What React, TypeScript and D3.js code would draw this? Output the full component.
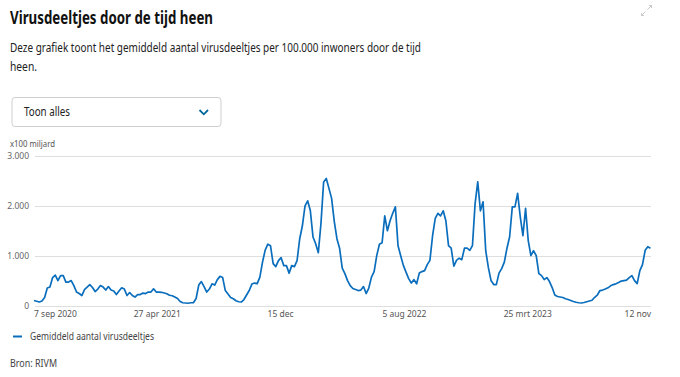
import React from "react";
import * as d3 from "d3";

// ---- Data ----
const seriesStart = "2020-09-07";
const stepDays = 5;
const seriesValues = [
  100, 85, 70, 90, 160, 350, 370, 560, 610, 500, 600, 600, 470, 470, 500, 400, 270, 240, 200, 320,
  370, 420, 360, 280, 330, 400, 370, 310, 380, 310, 290, 220, 290, 355, 330, 200, 260, 200, 170, 220,
  220, 250, 240, 270, 270, 335, 270, 270, 265, 250, 235, 205, 195, 170, 140, 80, 55, 50, 45,
  55, 55, 140, 410, 480, 380, 270, 330, 435, 410, 520, 585, 560, 300, 230, 160, 135, 95, 75, 70,
  120, 210, 300, 430, 450, 440, 570, 870, 1110, 1230, 1200, 840, 780, 900, 960, 800, 800, 650, 800,
  780, 900, 1340, 1600, 2000, 2100, 1900, 1375, 1240, 1060, 1650, 2480, 2550, 2350, 2150, 1690, 1340, 1150,
  750, 640, 500, 400, 340, 320, 300, 310, 380, 240, 350, 570, 680, 1005, 1230, 1260, 1800, 1500, 1700,
  1850, 1980, 1200, 1000, 805, 670, 540, 450, 520, 435, 650, 680, 700, 820, 905, 1400, 1750, 1850, 1800,
  1900, 1700, 1200, 1150, 790, 905, 950, 920, 1150, 1150, 1107, 1200, 2045, 2480, 1900, 2080, 1100, 760,
  500, 420,
  420, 650, 740, 870, 1150, 1380, 1980, 1980, 2250, 1780, 1400, 1950, 1300, 1000, 1100, 1000, 640, 600,
  520, 560, 480, 360, 210, 180, 170, 160, 135, 120, 100, 80, 65, 55, 50, 60, 75, 90, 105, 165, 210, 300,
  310, 330, 355, 395, 420, 435, 460, 490, 500, 510, 560, 600, 500, 440, 700, 820, 1107, 1180, 1150,
];
const yTicks = [0, 1000, 2000, 3000];
const xTickDates = ["2020-09-07", "2021-04-27", "2021-12-15", "2022-08-05", "2023-03-25", "2023-11-12"];
const xTickLabels = ["7 sep 2020", "27 apr 2021", "15 dec", "5 aug 2022", "25 mrt 2023", "12 nov"];
const seriesName = "Gemiddeld aantal virusdeeltjes";

const W = 680;
const H = 377;
const FONT = "'Noto Sans', 'Open Sans', sans-serif";
const BLUE = "#0a6ebd";

export default function App() {
  const parse = d3.timeParse("%Y-%m-%d");
  const start = parse(seriesStart) as Date;
  const data = seriesValues.map((v, i) => ({ date: d3.timeDay.offset(start, i * stepDays), value: v }));
  const tickDates = xTickDates.map((d) => parse(d) as Date);

  const x = d3.scaleTime().domain([tickDates[0], tickDates[tickDates.length - 1]]).range([34, 651]);
  const y = d3.scaleLinear().domain([0, 3000]).range([305.5, 156]);
  const fmt = d3.formatLocale({ decimal: ",", thousands: ".", grouping: [3], currency: ["€", ""] }).format(",d");

  const line = d3
    .line<{ date: Date; value: number }>()
    .x((d) => x(d.date))
    .y((d) => y(d.value))
    .curve(d3.curveLinear);

  return (
    <svg
      width={W}
      height={H}
      style={{ position: "absolute", left: 0, top: 0, background: "#fff" }}
      fontFamily={FONT}
    >
      {/* title */}
      <text x={10} y={24} fontSize={17} fontWeight={700} fill="#111" textLength={203} lengthAdjust="spacingAndGlyphs">
        Virusdeeltjes door de tijd heen
      </text>
      {/* expand icon */}
      <g stroke="#c9c9c9" strokeWidth={1} fill="none">
        <path d="M647.5 9.5 L651.5 5.5 M649 5.5 L651.5 5.5 L651.5 8" />
        <path d="M645.5 11.5 L641.5 15.5 M641.5 13 L641.5 15.5 L644 15.5" />
      </g>
      {/* subtitle */}
      <text x={10} y={52} fontSize={12.5} fill="#222" textLength={411} lengthAdjust="spacingAndGlyphs">
        Deze grafiek toont het gemiddeld aantal virusdeeltjes per 100.000 inwoners door de tijd
      </text>
      <text x={10} y={71} fontSize={12.5} fill="#222" textLength={27} lengthAdjust="spacingAndGlyphs">
        heen.
      </text>
      {/* dropdown */}
      <rect x={12} y={97.5} width={209} height={29} rx={3} fill="#fff" stroke="#cfcfcf" />
      <text x={24} y={116} fontSize={12} fill="#222" textLength={46} lengthAdjust="spacingAndGlyphs">
        Toon alles
      </text>
      <path d="M199.5 110 L203.8 114.3 L208 110" stroke="#01689b" strokeWidth={1.8} fill="none" />

      {/* y unit */}
      <text x={10} y={147} fontSize={8.5} fill="#555" textLength={45} lengthAdjust="spacingAndGlyphs">
        x100 miljard
      </text>

      {/* grid + y labels */}
      {yTicks.map((t) => (
        <g key={t}>
          <line x1={35} x2={651} y1={Math.round(y(t)) + 0.5} y2={Math.round(y(t)) + 0.5} stroke="#dedede" strokeWidth={1} />
          <text x={29} y={y(t) + 3} fontSize={8.5} fill="#666" textAnchor="end">
            {fmt(t)}
          </text>
        </g>
      ))}

      {/* x labels */}
      {tickDates.map((d, i) => (
        <text
          key={i}
          x={x(d)}
          y={317}
          fontSize={8.5}
          fill="#555"
          textAnchor={i === 0 ? "start" : i === tickDates.length - 1 ? "end" : "middle"}
        >
          {xTickLabels[i]}
        </text>
      ))}

      {/* series */}
      <path d={line(data) || ""} fill="none" stroke={BLUE} strokeWidth={1.7} strokeLinejoin="round" />

      {/* legend */}
      <line x1={13} x2={22} y1={336.5} y2={336.5} stroke={BLUE} strokeWidth={2} />
      <text x={30} y={340} fontSize={10.5} fill="#444" textLength={124} lengthAdjust="spacingAndGlyphs">
        {seriesName}
      </text>

      {/* source */}
      <text x={10} y={367} fontSize={10.5} fill="#444" textLength={47} lengthAdjust="spacingAndGlyphs">
        Bron: RIVM
      </text>
    </svg>
  );
}
